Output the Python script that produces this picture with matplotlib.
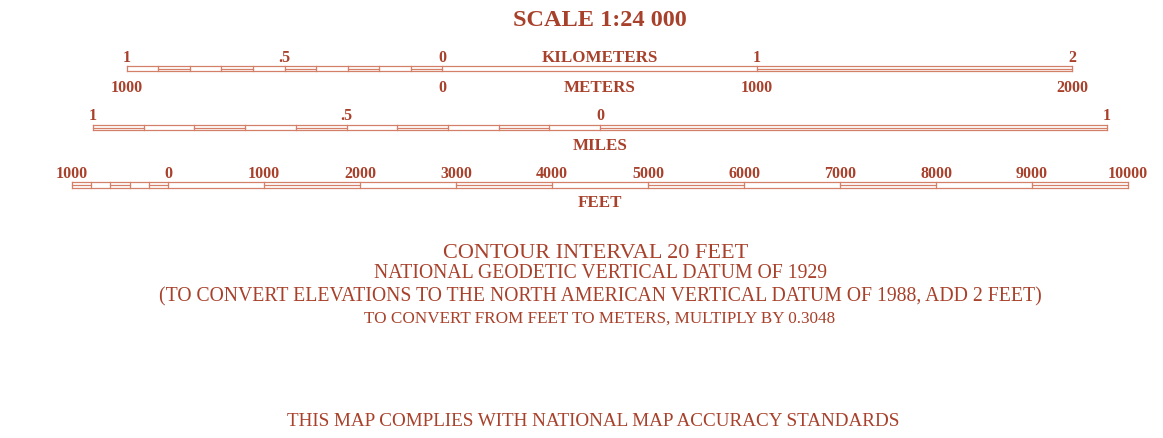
import matplotlib.pyplot as plt

# bar scale values (ground units)
km_edges = [-1.0, -0.9, -0.8, -0.7, -0.6, -0.5, -0.4, -0.3, -0.2, -0.1, 0, 1, 2]
km_lined = [0, 1, 0, 1, 0, 1, 0, 1, 0, 1, 0, 1]
km_vals = [-1, -0.5, 0, 1, 2]
km_labels = ['1', '.5', '0', '1', '2']
m_vals = [-1000, 0, 1000, 2000]
m_labels = ['1000', '0', '1000', '2000']

mi_edges = [-1.0, -0.9, -0.8, -0.7, -0.6, -0.5, -0.4, -0.3, -0.2, -0.1, 0, 1]
mi_lined = [1, 0, 1, 0, 1, 0, 1, 0, 1, 0, 1]
mi_vals = [-1, -0.5, 0, 1]
mi_labels = ['1', '.5', '0', '1']

ft_edges = [-1000, -800, -600, -400, -200, 0, 1000, 2000, 3000, 4000, 5000,
            6000, 7000, 8000, 9000, 10000]
ft_lined = [1, 0, 1, 0, 1, 0, 1, 0, 1, 0, 1, 0, 1, 0, 1]
ft_vals = [-1000, 0, 1000, 2000, 3000, 4000, 5000, 6000, 7000, 8000, 9000, 10000]
ft_labels = ['1000', '0', '1000', '2000', '3000', '4000', '5000', '6000',
             '7000', '8000', '9000', '10000']

KM_PER_MI = 1.609344
KM_PER_FT = 0.0003048

TXT = '#a8412b'
LINE = '#d48069'
SERIF = ['Liberation Serif', 'DejaVu Serif']

# layout: x axis in km on the ground, y axis in pixels from top
PX_PER_KM = 315
KM_ZERO = 442
MI_ZERO = (600 - KM_ZERO) / PX_PER_KM
FT_ZERO = (168 - KM_ZERO) / PX_PER_KM

fig = plt.figure(figsize=(11.63, 4.39), dpi=100)
ax = fig.add_axes([0, 0, 1, 1])
ax.set_xlim(-KM_ZERO / PX_PER_KM, (1163 - KM_ZERO) / PX_PER_KM)
ax.set_ylim(439, 0)
ax.axis('off')


def draw_bar(edges, lined, zero, unit, y0, y1):
    xs = [zero + e * unit for e in edges]
    ym = (y0 + y1) / 2
    ax.plot([xs[0], xs[-1]], [y0, y0], color=LINE, lw=0.9)
    ax.plot([xs[0], xs[-1]], [y1, y1], color=LINE, lw=0.9)
    for x in xs:
        ax.plot([x, x], [y0, y1], color=LINE, lw=0.9)
    for i, f in enumerate(lined):
        if f:
            ax.plot([xs[i], xs[i + 1]], [ym, ym], color=LINE, lw=0.9)


def draw_labels(vals, labels, zero, unit, y, size=11.5):
    for v, s in zip(vals, labels):
        ax.text(zero + v * unit, y, s, ha='center', va='center', color=TXT,
                fontsize=size, fontweight='bold', family=SERIF)


draw_bar(km_edges, km_lined, 0, 1, 67, 72)
draw_labels(km_vals, km_labels, 0, 1, 58)
draw_labels(m_vals, m_labels, 0, 0.001, 88)

draw_bar(mi_edges, mi_lined, MI_ZERO, KM_PER_MI, 126, 131)
draw_labels(mi_vals, mi_labels, MI_ZERO, KM_PER_MI, 116)

draw_bar(ft_edges, ft_lined, FT_ZERO, KM_PER_FT, 183, 189)
draw_labels(ft_vals, ft_labels, FT_ZERO, KM_PER_FT, 174)

cx = 600 / 1163


def line(y, s, size, weight='bold', x=cx):
    fig.text(x, 1 - y / 439, s, ha='center', va='center', color=TXT,
             fontsize=size, fontweight=weight, family=SERIF)


line(20, 'SCALE 1:24 000', 17.5)
line(58, 'KILOMETERS', 12.2)
line(88, 'METERS', 12.2)
line(146, 'MILES', 12.2)
line(203, 'FEET', 12.2)

line(254, 'CONTOUR INTERVAL 20 FEET', 16, 'normal', 596 / 1163)
line(274, 'NATIONAL GEODETIC VERTICAL DATUM OF 1929', 14.2, 'normal')
line(297, '(TO CONVERT ELEVATIONS TO THE NORTH AMERICAN VERTICAL DATUM OF 1988, ADD 2 FEET)',
     14.2, 'normal')
line(319, 'TO CONVERT FROM FEET TO METERS, MULTIPLY BY 0.3048', 12.3, 'normal')
line(422, 'THIS MAP COMPLIES WITH NATIONAL MAP ACCURACY STANDARDS', 13.8, 'normal',
     593 / 1163)

fig.savefig('out.png', dpi=100, facecolor='white')
